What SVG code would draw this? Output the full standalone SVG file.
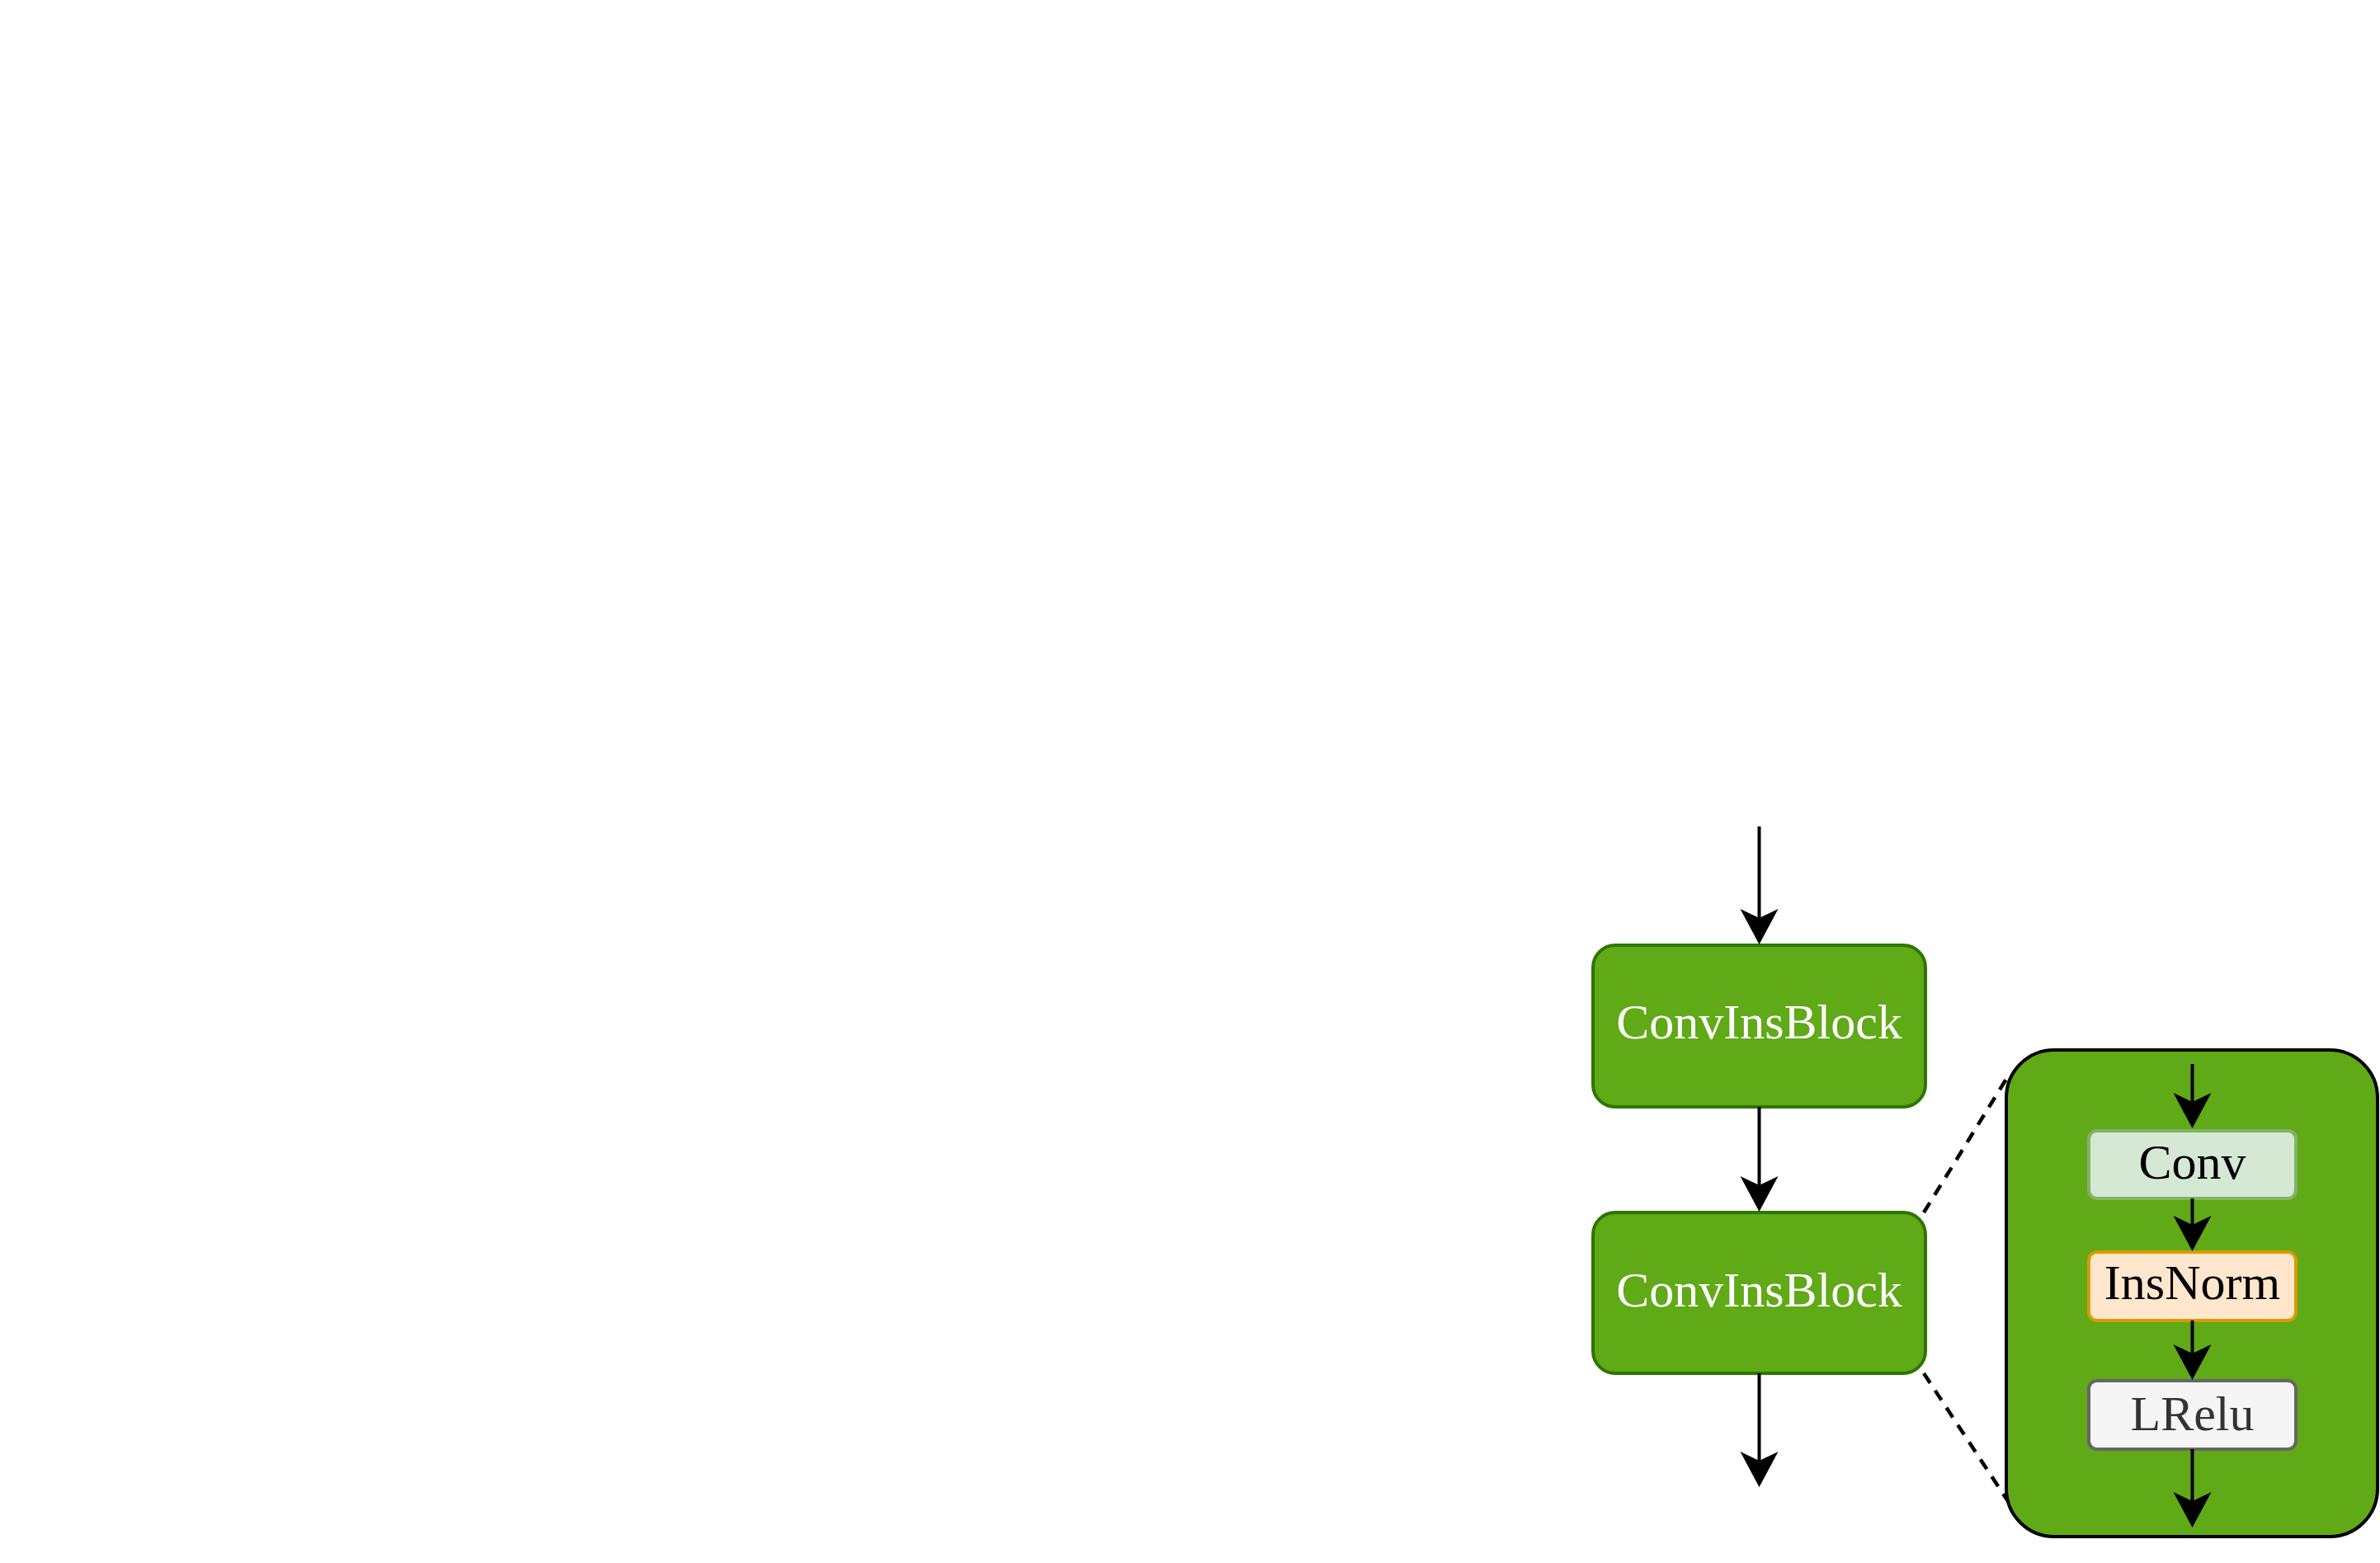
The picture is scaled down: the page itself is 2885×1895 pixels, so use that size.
<svg xmlns="http://www.w3.org/2000/svg" width="2885" height="1895" viewBox="0 0 2885 1895">
<style>
text{font-family:"Liberation Serif","Times New Roman",serif;font-size:60px;text-anchor:middle}
.blk{fill:#60A917;stroke:#2D7600;stroke-width:4}
.wt{fill:#FFFFFF}
.line{stroke:#000;stroke-width:4;fill:none}
.dash{stroke:#000;stroke-width:4.5;fill:none;stroke-dasharray:14 11}
</style>
<defs>
<marker id="arr" viewBox="0 0 44 48" refX="11" refY="24" markerWidth="44" markerHeight="48" markerUnits="userSpaceOnUse" orient="auto">
<path d="M43,24 L0,1 L11,24 L0,47 Z" fill="#000"/>
</marker>
</defs>
<rect width="2885" height="1895" fill="#FFFFFF"/>
<g id="panel">
<rect x="2432" y="1273" width="450" height="590" rx="58" fill="#60A917" stroke="#000" stroke-width="4"/>
</g>
<g id="block1">
<rect class="blk" x="1931" y="1146" width="403" height="196" rx="27"/>
<text class="wt" x="2132.5" y="1259">ConvInsBlock</text>
</g>
<g id="block2">
<rect class="blk" x="1931" y="1470" width="403" height="195" rx="27"/>
<text class="wt" x="2132.5" y="1584">ConvInsBlock</text>
</g>
<g id="conv">
<rect x="2532" y="1371" width="251" height="82" rx="10" fill="#D5E8D4" stroke="#82B366" stroke-width="4"/>
<text x="2657.5" y="1429" fill="#000">Conv</text>
</g>
<g id="insnorm">
<rect x="2532" y="1518" width="251" height="83" rx="10" fill="#FFE6CC" stroke="#D79B00" stroke-width="4"/>
<text x="2657.5" y="1575" fill="#000">InsNorm</text>
</g>
<g id="lrelu">
<rect x="2532" y="1674" width="251" height="83" rx="10" fill="#F5F5F5" stroke="#666666" stroke-width="4"/>
<text x="2657.5" y="1734" fill="#333333">LRelu</text>
</g>
<g id="connectors">
<line class="line" x1="2132.5" y1="1002" x2="2132.5" y2="1113" marker-end="url(#arr)"/>
<line class="line" x1="2132.5" y1="1342" x2="2132.5" y2="1437" marker-end="url(#arr)"/>
<line class="line" x1="2132.5" y1="1665" x2="2132.5" y2="1771" marker-end="url(#arr)"/>
<line class="line" x1="2657.5" y1="1290" x2="2657.5" y2="1336" marker-end="url(#arr)"/>
<line class="line" x1="2657.5" y1="1453" x2="2657.5" y2="1485" marker-end="url(#arr)"/>
<line class="line" x1="2657.5" y1="1601" x2="2657.5" y2="1641" marker-end="url(#arr)"/>
<line class="line" x1="2657.5" y1="1757" x2="2657.5" y2="1820" marker-end="url(#arr)"/>
<line class="dash" x1="2332" y1="1470" x2="2434" y2="1305"/>
<line class="dash" x1="2332" y1="1665" x2="2434" y2="1820"/>
</g>
</svg>
